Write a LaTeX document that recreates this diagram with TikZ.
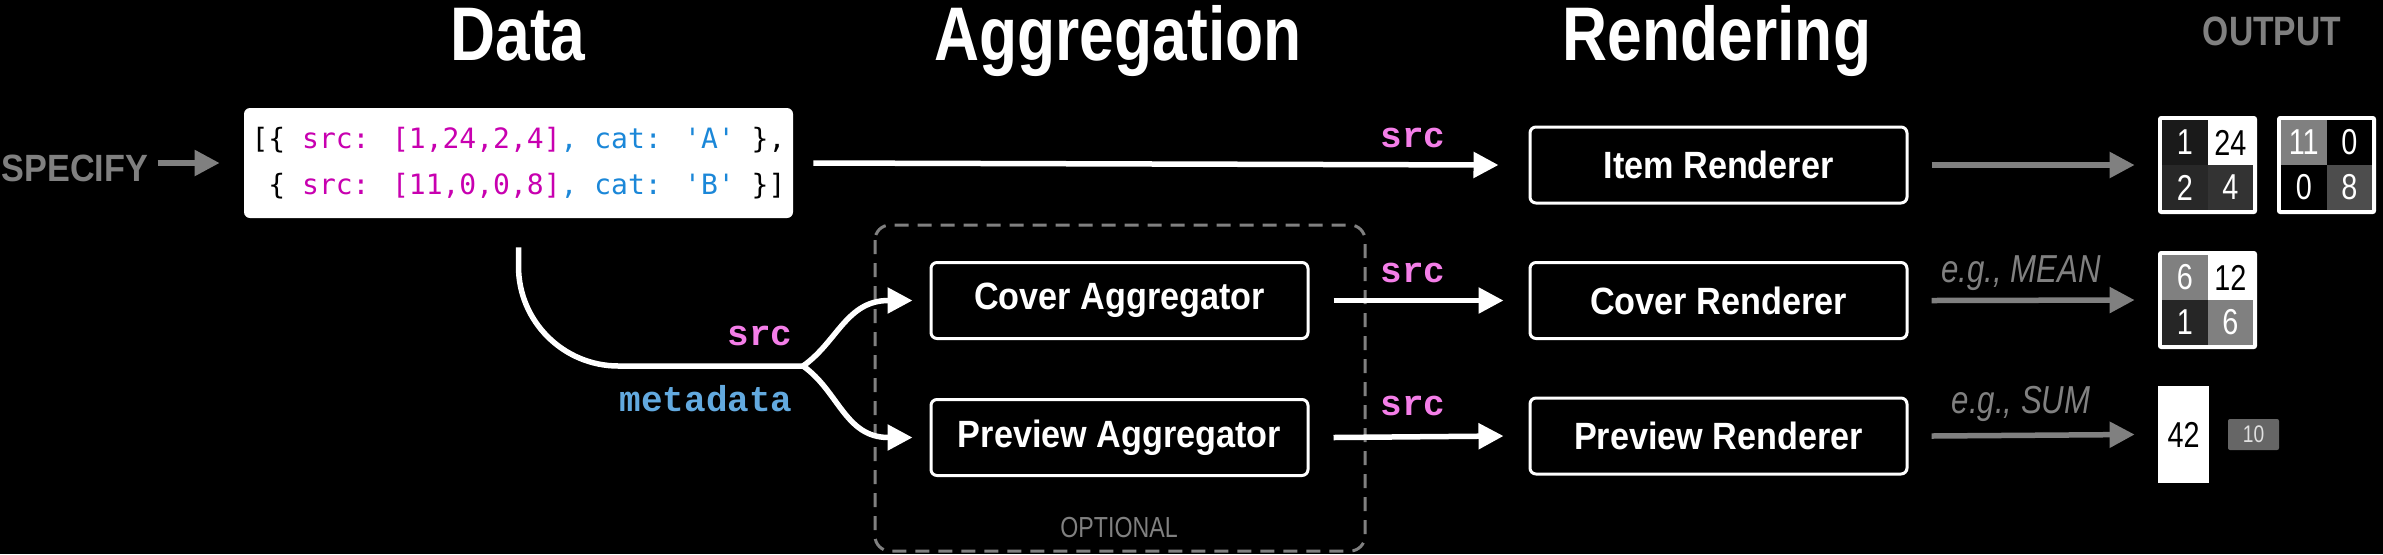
\documentclass[tikz,border=0pt]{standalone}
\usepackage{fontspec}
\setmainfont{Liberation Sans}
\newfontfamily\headfont[FakeStretch=0.82]{Liberation Sans}
\newfontfamily\boxfont[FakeStretch=0.9]{Liberation Sans}
\newfontfamily\lightfont[FakeStretch=0.8]{Liberation Sans}
\newfontfamily\codefont[Ligatures=TeXOff]{DejaVu Sans Mono}
\newfontfamily\labfont{Liberation Mono}
\usetikzlibrary{arrows.meta}
\definecolor{midgray}{HTML}{808080}
\definecolor{cmag}{HTML}{C800B0}
\definecolor{cblue}{HTML}{1B87D8}
\definecolor{pinklab}{HTML}{F47EE8}
\definecolor{bluelab}{HTML}{62A9DF}
\definecolor{ga}{HTML}{1A1A1A}
\definecolor{gb}{HTML}{282828}
\definecolor{gc}{HTML}{333333}
\definecolor{gd}{HTML}{4D4D4D}
\definecolor{ge}{HTML}{262626}
\definecolor{gf}{HTML}{666666}
\definecolor{gtxt}{HTML}{E0E0E0}
\begin{document}
\begin{tikzpicture}[x=0.5pt,y=-0.5pt,
  head/.style={font=\headfont\bfseries\fontsize{38}{40}\selectfont, text=white, anchor=base, inner sep=0pt},
  procbox/.style={draw=white, line width=1.5pt, fill=black, rounded corners=3pt, minimum width=188.5pt, minimum height=38pt, text=white, font=\boxfont\bfseries\fontsize{19}{21}\selectfont, inner sep=0pt},
  codebox/.style={fill=white, rounded corners=3pt, minimum width=274.5pt, minimum height=55pt, inner sep=0pt, align=left, font=\codefont\fontsize{14}{23}\selectfont},
  wflow/.style={draw=white, line width=2.75pt, -{Triangle[length=12.5pt,width=12.5pt]}},
  gflow/.style={draw=midgray, line width=2.75pt, -{Triangle[length=12.5pt,width=12.5pt]}},
  srclab/.style={font=\labfont\bfseries\fontsize{18}{20}\selectfont, text=pinklab, inner sep=0pt},
  metalab/.style={font=\labfont\bfseries\fontsize{18}{20}\selectfont, text=bluelab, inner sep=0pt},
  eglab/.style={font=\lightfont\itshape\fontsize{19.5}{21}\selectfont, text=midgray, anchor=base, inner sep=0pt},
  mframe/.style={fill=white, minimum width=49.5pt, minimum height=49pt, inner sep=0pt, rounded corners=1.5pt},
  cell/.style={minimum width=22.75pt, minimum height=22.5pt, inner sep=0pt, outer sep=0pt, text=white, font=\lightfont\fontsize{18}{18}\selectfont},
  optbox/.style={draw=midgray, line width=1.5pt, dash pattern=on 7pt off 4.5pt, rounded corners=7.5pt}
]
\fill[black] (0,0) rectangle (2383,554);
\useasboundingbox (0,0) rectangle (2383,554);

% headings
\node[head] (hdata) at (518,60) {Data};
\node[head] (hagg) at (1118,60) {Aggregation};
\node[head] (hren) at (1717,60) {Rendering};
\node[font=\headfont\bfseries\fontsize{20.5}{22}\selectfont, text=midgray, anchor=base, inner sep=0pt] (hout) at (2272,45) {OUTPUT};

% specify
\node[font=\boxfont\bfseries\fontsize{19}{21}\selectfont, text=midgray, anchor=base, inner sep=0pt] (spec) at (75,181) {SPECIFY};

% code box
\node[codebox] (code) at (518.5,163) {[\{ \textcolor{cmag}{src: [1,24,2,4]}\textcolor{cblue}{, cat: 'A'} \},\\\phantom{[}\{ \textcolor{cmag}{src: [11,0,0,8]}\textcolor{cblue}{, cat: 'B'} \}]};
\draw[gflow] ([xshift=4.5pt]spec.east |- code.west) -- ([xshift=-12pt]code.west);

% optional region
\draw[optbox] (875,225) rectangle (1365,551);
\node[font=\lightfont\fontsize{14.5}{16}\selectfont, text=midgray, inner sep=0pt] (opt) at (1119,528) {OPTIONAL};

% aggregators
\node[procbox] (cagg) at (1119.5,300.5) {Cover Aggregator};
\node[procbox] (pagg) at (1119.5,437.5) {Preview Aggregator};

% renderers
\node[procbox] (iren) at (1718.5,165) {Item Renderer};
\node[procbox] (cren) at (1718.5,300.5) {Cover Renderer};
\node[procbox] (pren) at (1718.5,436) {Preview Renderer};

% data -> item renderer
\draw[wflow] ([xshift=10pt]code.east) -- ([xshift=-15pt]iren.west);
\node[srclab, anchor=base west] (l1) at (1380,147) {src};

% fork to aggregators
\coordinate (fork) at (803,366);
\draw[white, line width=2.75pt] ([yshift=-14.5pt]code.south) -- ++(0,19) to[out=-90,in=180] (618.5,366) -- (fork);
\draw[wflow] (fork) to[out=35,in=180] ([xshift=-20.5pt]cagg.west) -- ([xshift=-8.5pt]cagg.west);
\draw[wflow] (fork) to[out=-35,in=180] ([xshift=-20.5pt]pagg.west) -- ([xshift=-8.5pt]pagg.west);
\node[srclab, anchor=base east] (l0) at (793,345) {src};
\node[metalab, anchor=base east] (lm) at (793,411) {metadata};

% aggregators -> renderers
\draw[wflow] ([xshift=12pt]cagg.east) -- ([xshift=-12.5pt]cren.west);
\draw[wflow] ([xshift=12pt]pagg.east) -- ([xshift=-12.5pt]pren.west);
\node[srclab, anchor=base west] (l2) at (1380,282) {src};
\node[srclab, anchor=base west] (l3) at (1380,415) {src};

% outputs
\node[mframe] (m1) at (2207.5,165) {};
\node[cell, fill=ga] (m1a) at (2184.75,142.5) {1};
\node[cell, fill=white, text=black] (m1b) at (2230.25,142.5) {24};
\node[cell, fill=gb] (m1c) at (2184.75,187.5) {2};
\node[cell, fill=gc] (m1d) at (2230.25,187.5) {4};

\node[mframe] (m2) at (2326.5,165) {};
\node[cell, fill=midgray] (m2a) at (2303.75,142.5) {11};
\node[cell, fill=black] (m2b) at (2349.25,142.5) {0};
\node[cell, fill=black] (m2c) at (2303.75,187.5) {0};
\node[cell, fill=gd] (m2d) at (2349.25,187.5) {8};

\node[mframe] (m3) at (2207.5,300) {};
\node[cell, fill=midgray] (m3a) at (2184.75,277.5) {6};
\node[cell, fill=white, text=black] (m3b) at (2230.25,277.5) {12};
\node[cell, fill=ge] (m3c) at (2184.75,322.5) {1};
\node[cell, fill=midgray] (m3d) at (2230.25,322.5) {6};

\node[fill=white, minimum width=25.5pt, minimum height=48.5pt, inner sep=0pt, text=black, font=\lightfont\fontsize{18}{18}\selectfont] (bar) at (2183.5,434.5) {42};
\node[fill=gf, minimum width=25.5pt, minimum height=15.5pt, inner sep=0pt, rounded corners=1pt, text=gtxt, font=\lightfont\fontsize{12}{12}\selectfont] (small) at (2253.5,434.5) {10};

\draw[gflow] ([xshift=11.5pt]iren.east) -- ([xshift=-11.5pt]m1.west);
\draw[gflow] ([xshift=11.5pt]cren.east) -- ([xshift=-11.5pt]m3.west);
\draw[gflow] ([xshift=11.5pt]pren.east) -- ([xshift=-11.5pt]bar.west);
\node[eglab] (eg1) at (2021,282) {e.g., MEAN};
\node[eglab] (eg2) at (2021,413) {e.g., SUM};
\end{tikzpicture}
\end{document}
